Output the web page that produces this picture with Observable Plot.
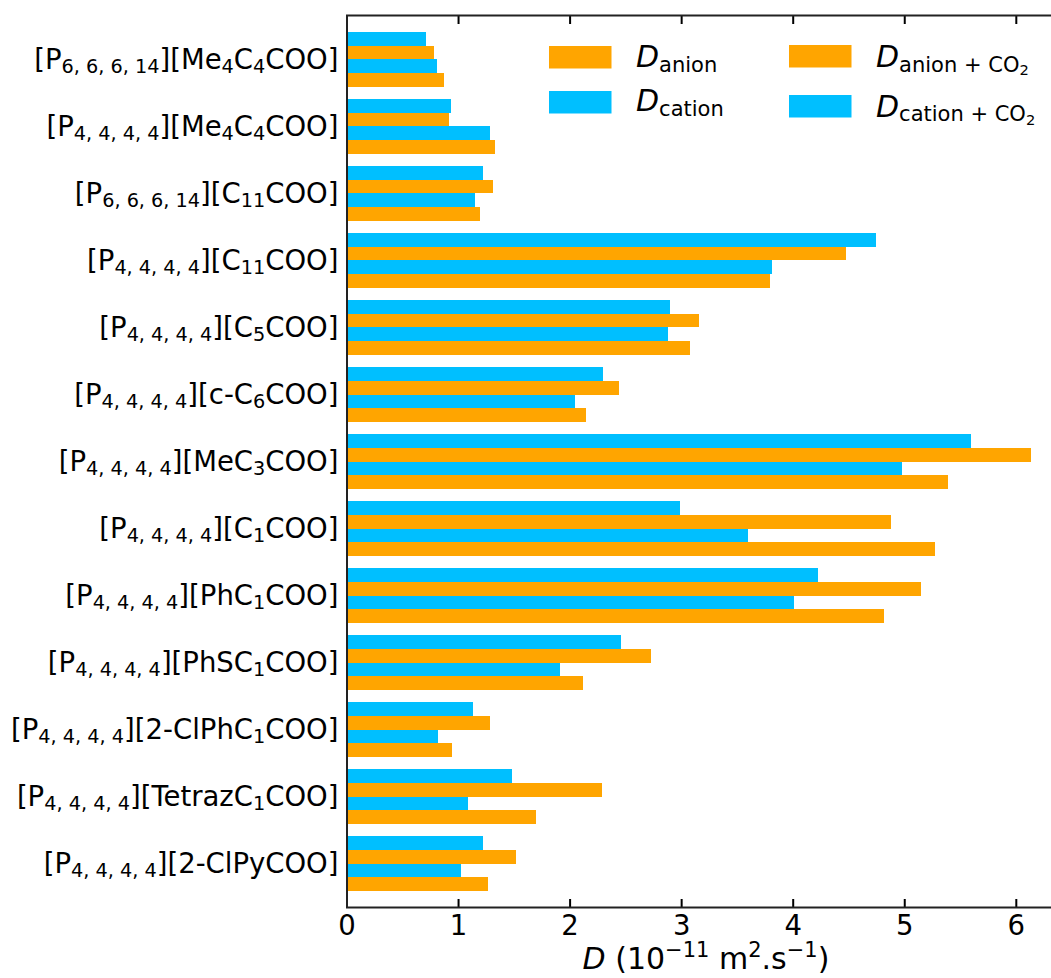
<!DOCTYPE html>
<html><head><meta charset="utf-8">
<script src="https://cdn.jsdelivr.net/npm/d3@7"></script>
<script src="https://cdn.jsdelivr.net/npm/@observablehq/plot@0.6"></script>
<style>
html,body{margin:0;padding:0;background:#fff;overflow:hidden;}
#chart{position:relative;width:1051px;height:978px;overflow:hidden;}
#chart svg{max-width:none !important;}
</style></head><body><div id="chart"></div>
<script>
// ---------- data ----------
const categories = [
  "[P_{6, 6, 6, 14}][Me_{4}C_{4}COO]",
  "[P_{4, 4, 4, 4}][Me_{4}C_{4}COO]",
  "[P_{6, 6, 6, 14}][C_{11}COO]",
  "[P_{4, 4, 4, 4}][C_{11}COO]",
  "[P_{4, 4, 4, 4}][C_{5}COO]",
  "[P_{4, 4, 4, 4}][c-C_{6}COO]",
  "[P_{4, 4, 4, 4}][MeC_{3}COO]",
  "[P_{4, 4, 4, 4}][C_{1}COO]",
  "[P_{4, 4, 4, 4}][PhC_{1}COO]",
  "[P_{4, 4, 4, 4}][PhSC_{1}COO]",
  "[P_{4, 4, 4, 4}][2-ClPhC_{1}COO]",
  "[P_{4, 4, 4, 4}][TetrazC_{1}COO]",
  "[P_{4, 4, 4, 4}][2-ClPyCOO]"
];
const cationCO2 = [0.71, 0.94, 1.22, 4.75, 2.90, 2.30, 5.60, 2.99, 4.23, 2.46, 1.13, 1.48, 1.22];
const anionCO2  = [0.78, 0.92, 1.31, 4.48, 3.16, 2.44, 6.14, 4.88, 5.15, 2.73, 1.29, 2.29, 1.52];
const cation    = [0.81, 1.29, 1.15, 3.81, 2.88, 2.05, 4.98, 3.60, 4.01, 1.91, 0.82, 1.09, 1.03];
const anion     = [0.87, 1.33, 1.20, 3.80, 3.08, 2.15, 5.39, 5.28, 4.82, 2.12, 0.95, 1.70, 1.27];
const seriesNames = ["cation+CO2", "anion+CO2", "cation", "anion"];
const xTicks = [0, 1, 2, 3, 4, 5, 6];
const legendLabels = [
  {series: "anion", segs: [{t: "D", it: 1}, {t: "anion", l: 1}]},
  {series: "cation", segs: [{t: "D", it: 1}, {t: "cation", l: 1}]},
  {series: "anion+CO2", segs: [{t: "D", it: 1}, {t: "anion + CO", l: 1}, {t: "2", l: 2}]},
  {series: "cation+CO2", segs: [{t: "D", it: 1}, {t: "cation + CO", l: 1}, {t: "2", l: 2}]}
];
const xLabelSegs = [{t: "D", it: 1}, {t: " (10"}, {t: "\u221211", l: -1}, {t: " m"}, {t: "2", l: -1}, {t: ".s"}, {t: "\u22121", l: -1}, {t: ")"}];

// ---------- table ----------
const seriesValues = [cationCO2, anionCO2, cation, anion];
const barH = 0.205;
const rows = [];
categories.forEach((c, i) => seriesValues.forEach((vals, k) => rows.push({
  i, series: seriesNames[k], value: vals[i],
  y1: i - 2 * barH + k * barH, y2: i - 2 * barH + (k + 1) * barH
})));

const colorRange = ["#00BFFF", "#FFA500", "#00BFFF", "#FFA500"];
const FS = 27.5;

const chart = Plot.plot({
  width: 1066, height: 978,
  marginLeft: 346.5, marginRight: 0, marginTop: 15, marginBottom: 71,
  style: {fontFamily: "'DejaVu Sans', sans-serif", fontSize: FS + "px", background: "#fff", color: "#000"},
  x: {domain: [0, 6.45], label: null},
  y: {domain: [-0.664, 12.649], reverse: true, label: null},
  color: {domain: seriesNames, range: colorRange},
  marks: [
    Plot.rect(rows, {x1: 0, x2: "value", y1: "y1", y2: "y2", fill: "series", shapeRendering: "crispEdges"}),
    Plot.axisX({anchor: "bottom", ticks: xTicks, tickSize: 0, tickPadding: 8, tickFormat: d => String(d)}),
    Plot.axisX({anchor: "bottom", ticks: xTicks, tickSize: -8, strokeWidth: 2, tickFormat: () => ""}),
    Plot.axisX({anchor: "top", ticks: xTicks, tickSize: -8, strokeWidth: 2, tickFormat: () => ""}),
    Plot.axisY({ticks: d3.range(categories.length), tickSize: 0, tickPadding: 8.5, tickFormat: i => categories[i]}),
    Plot.frame({stroke: "#222", strokeWidth: 2})
  ]
});
document.getElementById("chart").appendChild(chart);

// ---------- rich text helpers ----------
const svgNS = "http://www.w3.org/2000/svg";
const shiftK = {"0": 0, "1": 0.15, "2": 0.28, "-1": -0.40};
const scaleK = {"0": 1, "1": 0.7, "2": 0.49, "-1": 0.7};
function setRich(el, segs, base) {
  while (el.firstChild) el.removeChild(el.firstChild);
  let cur = 0;
  for (const s of segs) {
    const lvl = String(s.l || 0);
    const off = shiftK[lvl] * base;
    const t = document.createElementNS(svgNS, "tspan");
    t.setAttribute("dy", (off - cur).toFixed(2));
    cur = off;
    t.setAttribute("font-size", (scaleK[lvl] * base).toFixed(2));
    if (s.it) t.setAttribute("font-style", "italic");
    t.textContent = s.t;
    el.appendChild(t);
  }
}
function parseMarkup(str) {
  const segs = [];
  const re = /([_^])\{([^}]*)\}/g;
  let last = 0, m;
  while ((m = re.exec(str))) {
    if (m.index > last) segs.push({t: str.slice(last, m.index)});
    segs.push({t: m[2], l: m[1] === "_" ? 1 : -1});
    last = re.lastIndex;
  }
  if (last < str.length) segs.push({t: str.slice(last)});
  return segs;
}

// y tick labels with subscripts
chart.querySelectorAll('g[aria-label="y-axis tick label"] text').forEach(el => {
  const str = el.textContent;
  setRich(el, parseMarkup(str), FS);
});

// legend (inside plot, top right)
const svg = d3.select(chart);
const lg = svg.append("g").attr("font-family", "'DejaVu Sans', sans-serif").attr("text-anchor", "start");
const legendPos = [
  {x: 549, y: 46, tx: 636, ty: 67},
  {x: 549, y: 91, tx: 636, ty: 111},
  {x: 789, y: 45, tx: 876, ty: 67},
  {x: 789, y: 95, tx: 876, ty: 116.5}
];
legendLabels.forEach((d, j) => {
  const p = legendPos[j];
  lg.append("rect").attr("x", p.x).attr("y", p.y).attr("width", 62.5).attr("height", 22.5)
    .attr("fill", colorRange[seriesNames.indexOf(d.series)]);
  const t = lg.append("text").attr("x", p.tx).attr("y", p.ty).attr("fill", "#000").attr("text-anchor", "start");
  setRich(t.node(), d.segs, 30);
});

// x axis label
const xl = svg.append("text").attr("x", 706).attr("y", 969).attr("text-anchor", "middle")
  .attr("font-family", "'DejaVu Sans', sans-serif").attr("fill", "#000");
setRich(xl.node(), xLabelSegs, 30);
</script></body></html>
